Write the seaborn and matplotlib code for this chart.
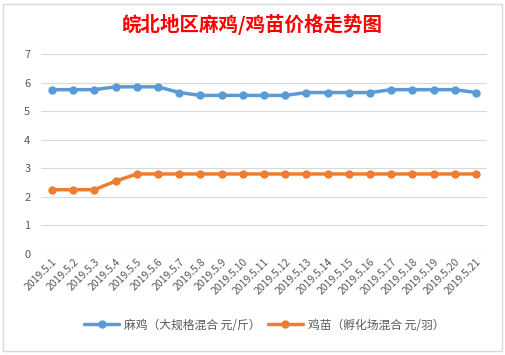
import pandas as pd
import numpy as np
import seaborn as sns
import matplotlib.pyplot as plt
from matplotlib.patches import Rectangle

sns.set_style("white")
plt.rcParams['font.family'] = ['Noto Sans CJK SC', 'DejaVu Sans']

dates = ["2019.5.%d" % d for d in range(1, 22)]
adult_price = [5.75, 5.75, 5.75, 5.85, 5.85, 5.85, 5.65, 5.55, 5.55, 5.55, 5.55,
               5.55, 5.65, 5.65, 5.65, 5.65, 5.75, 5.75, 5.75, 5.75, 5.65]
chick_price = [2.25, 2.25, 2.25, 2.55, 2.8, 2.8, 2.8, 2.8, 2.8, 2.8, 2.8,
               2.8, 2.8, 2.8, 2.8, 2.8, 2.8, 2.8, 2.8, 2.8, 2.8]
series_names = ["麻鸡（大规格混合 元/斤）", "鸡苗（孵化场混合 元/羽）"]

df = pd.DataFrame({
    "date": dates * 2,
    "price": adult_price + chick_price,
    "series": [series_names[0]] * len(dates) + [series_names[1]] * len(dates),
})
df["x"] = list(range(len(dates))) * 2

fig = plt.figure(figsize=(5.05, 3.55), dpi=100)
ax = fig.add_axes([0.082, 0.2845, 0.8816, 0.5635])

# outer chart border
fig.patches.append(Rectangle((0.006, 0.012), 0.988, 0.976, transform=fig.transFigure,
                             fill=False, edgecolor="#D9D9D9", linewidth=1))

sns.lineplot(data=df, x="x", y="price", hue="series",
             palette=["#5B9BD5", "#ED7D31"], marker="o", markersize=6,
             markeredgewidth=0, linewidth=2.5, ax=ax)

ax.set_xlim(-0.5, len(dates) - 0.5)
ax.set_ylim(0, 7)
ax.set_yticks(range(0, 8))
ax.set_xticks(range(len(dates)))
ax.set_xticklabels(dates, rotation=45, ha="right", rotation_mode="anchor",
                   fontsize=7.5, color="#595959")
ax.tick_params(axis="y", labelsize=8, colors="#595959", length=0, pad=8)
ax.tick_params(axis="x", length=0, pad=2)
ax.yaxis.grid(True, color="#D9D9D9", linewidth=0.8)
ax.set_axisbelow(True)
for s in ax.spines.values():
    s.set_visible(False)
ax.set_xlabel("")
ax.set_ylabel("")

fig.text(0.5, 0.93, "皖北地区麻鸡/鸡苗价格走势图", ha="center", va="center",
         fontsize=14, fontweight="bold", color="#FF0000")

ax.legend(loc="center", bbox_to_anchor=(0.5, -0.355), ncol=2, frameon=False,
          fontsize=8.5, labelcolor="#595959", handlelength=3, handletextpad=0.4,
          columnspacing=0.6)

fig.savefig("out.png", dpi=100)
